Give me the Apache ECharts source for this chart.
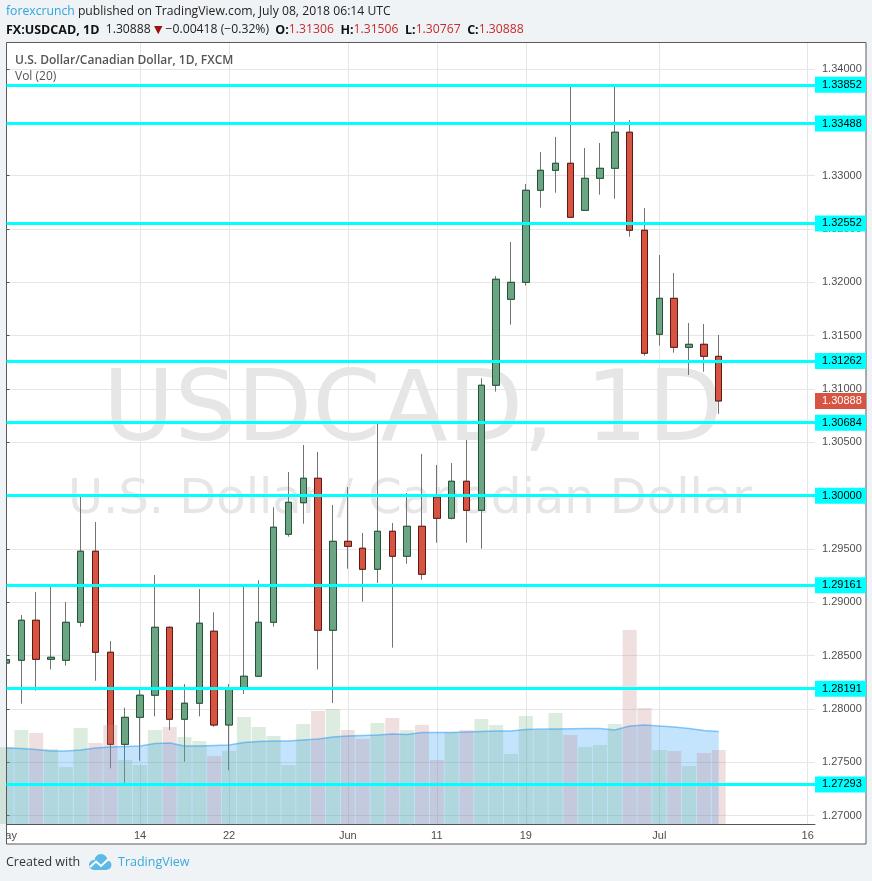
<!DOCTYPE html>
<html>
<head>
<meta charset="utf-8">
<script src="https://cdn.jsdelivr.net/npm/echarts@6/dist/echarts.min.js"></script>
<style>
html,body{margin:0;padding:0;background:#f0f3f6;}
#chart{width:872px;height:881px;}
</style>
</head>
<body>
<div id="chart"></div>
<script>
// ---- data ----
const dates = [
  '2018-05-01','2018-05-02','2018-05-03','2018-05-04','2018-05-07','2018-05-08','2018-05-09','2018-05-10','2018-05-11',
  '2018-05-14','2018-05-15','2018-05-16','2018-05-17','2018-05-18','2018-05-21','2018-05-22','2018-05-23','2018-05-24',
  '2018-05-25','2018-05-28','2018-05-29','2018-05-30','2018-05-31','2018-06-01','2018-06-04','2018-06-05','2018-06-06',
  '2018-06-07','2018-06-08','2018-06-11','2018-06-12','2018-06-13','2018-06-14','2018-06-15','2018-06-18','2018-06-19',
  '2018-06-20','2018-06-21','2018-06-22','2018-06-25','2018-06-26','2018-06-27','2018-06-28','2018-06-29','2018-07-02',
  '2018-07-03','2018-07-04','2018-07-05','2018-07-06'
];
const opens = [
  1.28431,1.28457,1.28832,1.28466,1.28457,1.28813,1.29479,1.28532,1.27669,
  1.27922,1.28129,1.28766,1.27904,1.28054,1.28729,1.27850,1.28194,1.28307,
  1.28813,1.29638,1.29934,1.30163,1.28738,1.29572,1.29507,1.29310,1.29666,
  1.29432,1.29713,1.29988,1.29788,1.30135,1.29863,1.31035,1.31841,1.32000,
  1.32863,1.33050,1.33116,1.32675,1.32975,1.33069,1.33407,1.32488,1.31513,
  1.31850,1.31391,1.31419,1.31306
];
const highs = [
  1.28500,1.28881,1.29097,1.29156,1.29003,1.29990,1.29753,1.28638,1.28012,
  1.28178,1.29256,1.28775,1.28234,1.29125,1.28907,1.28234,1.29156,1.29207,
  1.29891,1.30222,1.30475,1.30409,1.29913,1.30081,1.29650,1.30672,1.29744,
  1.30025,1.30391,1.30288,1.30306,1.30522,1.31100,1.32059,1.32378,1.32922,
  1.33222,1.33363,1.33831,1.33259,1.33306,1.33844,1.33522,1.32697,1.32256,
  1.32088,1.31619,1.31609,1.31506
];
const lows = [
  1.28400,1.28050,1.28172,1.28372,1.28406,1.28772,1.28265,1.27444,1.27309,
  1.27515,1.27931,1.27803,1.27506,1.27931,1.27834,1.27425,1.28141,1.28300,
  1.28772,1.29616,1.29737,1.28372,1.28056,1.29315,1.29006,1.29181,1.28575,
  1.29362,1.29212,1.29559,1.29778,1.29559,1.29503,1.30975,1.31603,1.31969,
  1.32700,1.32840,1.32603,1.32669,1.32822,1.32784,1.32428,1.31312,1.31406,
  1.31340,1.31131,1.31162,1.30767
];
const closes = [
  1.28462,1.28832,1.28466,1.28485,1.28813,1.29479,1.28532,1.27669,1.27922,
  1.28129,1.28766,1.27904,1.28054,1.28804,1.27850,1.28194,1.28307,1.28813,
  1.29704,1.29938,1.30163,1.28738,1.29572,1.29525,1.29310,1.29666,1.29432,
  1.29713,1.29263,1.29788,1.30135,1.29863,1.31035,1.32029,1.32000,1.32863,
  1.33050,1.33116,1.32610,1.32975,1.33069,1.33407,1.32488,1.31335,1.31850,
  1.31391,1.31419,1.31307,1.30888
];
const volumes = [
  77,94,91,75,57,96,81,99,64,59,
  94,97,87,83,68,73,107,97,88,59,
  100,113,115,94,85,101,106,94,99,64,
  92,94,105,99,70,108,94,111,89,77,
  79,100,194,116,74,73,58,71,74
];
const volumeMA20 = [
  76,75.5,74.5,73,73,74,76,77,77.5,78,
  80.5,81,78,78,78.5,79,81.5,82.5,83,83,
  84,85,87,88,88.5,89,90,89.5,91.5,91.5,
  91.5,92,92.5,93,93,94.5,95,95,95.3,95.5,
  95.5,94,98,99,98,97,95.5,93.5,92.5
];
const levels = [1.33852,1.33488,1.32552,1.31262,1.30684,1.30000,1.29161,1.28191,1.27293];
const priceTicks = [1.270,1.275,1.280,1.285,1.290,1.295,1.300,1.305,1.310,1.315,1.320,1.325,1.330,1.335,1.340];
const dateTickIndex = [0,9,15,23,29,35,44,54];
const dateTickLabels = ['May','14','22','Jun','11','19','Jul','16'];

// ---- build series data ----
const X_MIN = 0, X_MAX = 54.49;
const wickData = dates.map((d,i)=>[i, opens[i], closes[i], lows[i], highs[i]]);
const bodyData = dates.map((d,i)=>[i, opens[i], closes[i], Math.min(opens[i],closes[i]), Math.max(opens[i],closes[i])]);
const volData = dates.map((d,i)=>({
  value:[i, volumes[i]],
  itemStyle:{color: closes[i] >= opens[i] ? 'rgba(115,179,127,0.25)' : 'rgba(195,130,130,0.26)'}
}));
const maData = dates.map((d,i)=>[i, volumeMA20[i]]);
const lastClose = closes[closes.length-1];

const axisFont = 'Liberation Sans, Arial, sans-serif';
const uiFont = "'Open Sans', 'DejaVu Sans', sans-serif";
const BG = '#f0f3f6';

const chart = echarts.init(document.getElementById('chart'), null, {renderer:'canvas'});
const gridRect = {left:6.5, top:42, width:808.5, height:782, containLabel:false, outerBoundsMode:'none'};
function rs(color, weight, size, fam){ return {color:color, fontWeight:weight, fontSize:size||12.2, fontFamily:fam||uiFont, lineHeight:14}; }

const levelLines = levels.map(v=>[
  {name:v.toFixed(5), coord:[X_MIN, v]},
  {coord:[X_MAX, v]}
]);
const lastLine = [
  {name:lastClose.toFixed(5), coord:[X_MIN, lastClose],
   lineStyle:{color:'rgba(0,0,0,0)', width:1},
   label:{backgroundColor:'#d75442', color:'#ffffff'}},
  {coord:[X_MAX, lastClose]}
];

const option = {
  animation:false,
  backgroundColor:'#ffffff',
  title:[
    {left:6, top:5, padding:0, text:'{a|forexcrunch}{b| published on TradingView.com, July 08, 2018 06:14 UTC}',
     textStyle:{fontWeight:'normal', rich:{ a:rs('#2fa3df','normal'), b:rs('#222','normal') }}},
    {left:6, top:23, padding:0,
     text:'{k|FX:USDCAD, 1D}{n|  1.30888 }{d|▼}{n| −0.00418 (−0.32%)  }{k|O:}{r|1.31306}{k|  H:}{r|1.31506}{k|  L:}{r|1.30767}{k|  C:}{r|1.30888}',
     textStyle:{fontWeight:'normal', rich:{
       k:rs('#111','bold',12.5), n:rs('#222','normal',12.2), d:rs('#9b1111','normal',11,'DejaVu Sans'), r:rs('#c62b2b','normal',12.2)
     }}},
    {left:15, top:54, padding:0, text:'U.S. Dollar/Canadian Dollar, 1D, FXCM',
     textStyle:{color:'#555', fontFamily:uiFont, fontSize:12, fontWeight:600, lineHeight:14}},
    {left:15, top:70, padding:0, text:'Vol (20)',
     textStyle:{color:'#555', fontFamily:uiFont, fontSize:12, fontWeight:'normal', lineHeight:14}},
    {left:6, top:855, padding:0, text:'Created with',
     textStyle:{color:'#333', fontFamily:uiFont, fontSize:12.5, fontWeight:'normal', lineHeight:14}},
    {left:118, top:855, padding:0, text:'TradingView',
     textStyle:{color:'#3aa9dd', fontFamily:uiFont, fontSize:12.5, fontWeight:'normal', lineHeight:14}}
  ],
  graphic:[
    {type:'text', z:0, silent:true, style:{text:'USDCAD, 1D', x:413, y:415, textAlign:'center', textVerticalAlign:'middle',
      font:'98px "DejaVu Sans"', fill:'#e6e6e6'}},
    {type:'text', z:0, silent:true, style:{text:'U.S. Dollar / Canadian Dollar', x:410, y:501, textAlign:'center', textVerticalAlign:'middle',
      font:'48px "DejaVu Sans"', fill:'#e6e6e6'}},
    {type:'rect', z:3, silent:true, shape:{x:0,y:0,width:872,height:42}, style:{fill:BG}},
    {type:'rect', z:3, silent:true, shape:{x:0,y:0,width:6.5,height:881}, style:{fill:BG}},
    {type:'rect', z:3, silent:true, shape:{x:866,y:0,width:6,height:881}, style:{fill:BG}},
    {type:'rect', z:3, silent:true, shape:{x:0,y:844,width:872,height:37}, style:{fill:BG}},
    {type:'rect', z:4, silent:true, shape:{x:6.5,y:42.5,width:859.5,height:801.5}, style:{fill:null, stroke:'#5a5a5a', lineWidth:1}},
    {type:'circle', z:7, silent:true, shape:{cx:94, cy:865, r:5}, style:{fill:'#5bbbe6'}},
    {type:'circle', z:7, silent:true, shape:{cx:101, cy:860.5, r:6.5}, style:{fill:'#5bbbe6'}},
    {type:'circle', z:7, silent:true, shape:{cx:107, cy:865, r:4.5}, style:{fill:'#5bbbe6'}},
    {type:'rect', z:7, silent:true, shape:{x:94, y:864, width:13, height:6}, style:{fill:'#5bbbe6'}},
    {type:'polyline', z:8, silent:true,
      shape:{points:[[90,867],[96,861.5],[101,866],[108,859.5]]},
      style:{stroke:'#ffffff', lineWidth:2, fill:null}}
  ],
  grid:[
    Object.assign({}, gridRect),
    Object.assign({}, gridRect)
  ],
  xAxis:[
    {type:'value', gridIndex:0, min:X_MIN, max:X_MAX, position:'bottom',
     axisLine:{show:true, onZero:false, lineStyle:{color:'#555', width:1}},
     axisTick:{show:false, customValues:dateTickIndex},
     splitLine:{show:true, lineStyle:{color:'#e6e6e6', width:1}},
     axisLabel:{customValues:dateTickIndex, margin:6, fontSize:11, fontFamily:axisFont, color:'#4c4c4c',
       formatter:(v)=>{const k=dateTickIndex.indexOf(Math.round(v)); return k>=0?dateTickLabels[k]:'';}}},
    {type:'value', gridIndex:1, min:X_MIN, max:X_MAX, show:false}
  ],
  yAxis:[
    {type:'value', gridIndex:0, min:1.26922, max:1.34253, position:'right', scale:true,
     axisLine:{show:true, lineStyle:{color:'#555', width:1}},
     axisTick:{show:true, customValues:priceTicks, length:3, lineStyle:{color:'#555'}},
     splitLine:{show:true, lineStyle:{color:'#e6e6e6', width:1}},
     axisLabel:{customValues:priceTicks, margin:7, fontSize:11, fontFamily:axisFont, color:'#4f4f4f',
       formatter:(v)=>v.toFixed(5)}},
    {type:'value', gridIndex:1, min:0, max:782, show:false}
  ],
  series:[
    {
      name:'wicks', type:'candlestick', xAxisIndex:0, yAxisIndex:0, z:2, barWidth:7, silent:true,
      data:wickData,
      itemStyle:{color:'transparent', color0:'transparent', borderColor:'#737373', borderColor0:'#737373', borderWidth:1}
    },
    {
      name:'USDCAD', type:'candlestick', xAxisIndex:0, yAxisIndex:0, z:2, barWidth:7, silent:true,
      data:bodyData,
      itemStyle:{color:'#6ba583', color0:'#d75442', borderColor:'#225437', borderColor0:'#5b1a13', borderWidth:1}
    },
    {
      name:'Volume', type:'bar', xAxisIndex:1, yAxisIndex:1, z:3, barWidth:14, silent:true,
      data:volData
    },
    {
      name:'Vol MA 20', type:'line', xAxisIndex:1, yAxisIndex:1, z:3, silent:true,
      data:maData, showSymbol:false, symbol:'none', smooth:false,
      lineStyle:{color:'rgba(33,150,243,0.5)', width:1.5},
      areaStyle:{color:'rgba(33,150,243,0.38)'}
    },
    {
      name:'Levels', type:'line', xAxisIndex:0, yAxisIndex:0, z:5, silent:true,
      data:[], showSymbol:false,
      markLine:{
        silent:true, z:5, precision:5, symbol:['none','none'], animation:false,
        emphasis:{disabled:true},
        lineStyle:{color:'#00ffff', width:3, type:'solid', opacity:1},
        label:{show:true, position:'end', distance:0, formatter:'{b}',
          backgroundColor:'#00ffff', color:'#000', fontSize:11, fontFamily:axisFont,
          padding:[2,0,2,7], width:44, lineHeight:12, align:'left'},
        data:levelLines.concat([lastLine])
      }
    }
  ]
};
chart.setOption(option);
</script>
</body>
</html>
